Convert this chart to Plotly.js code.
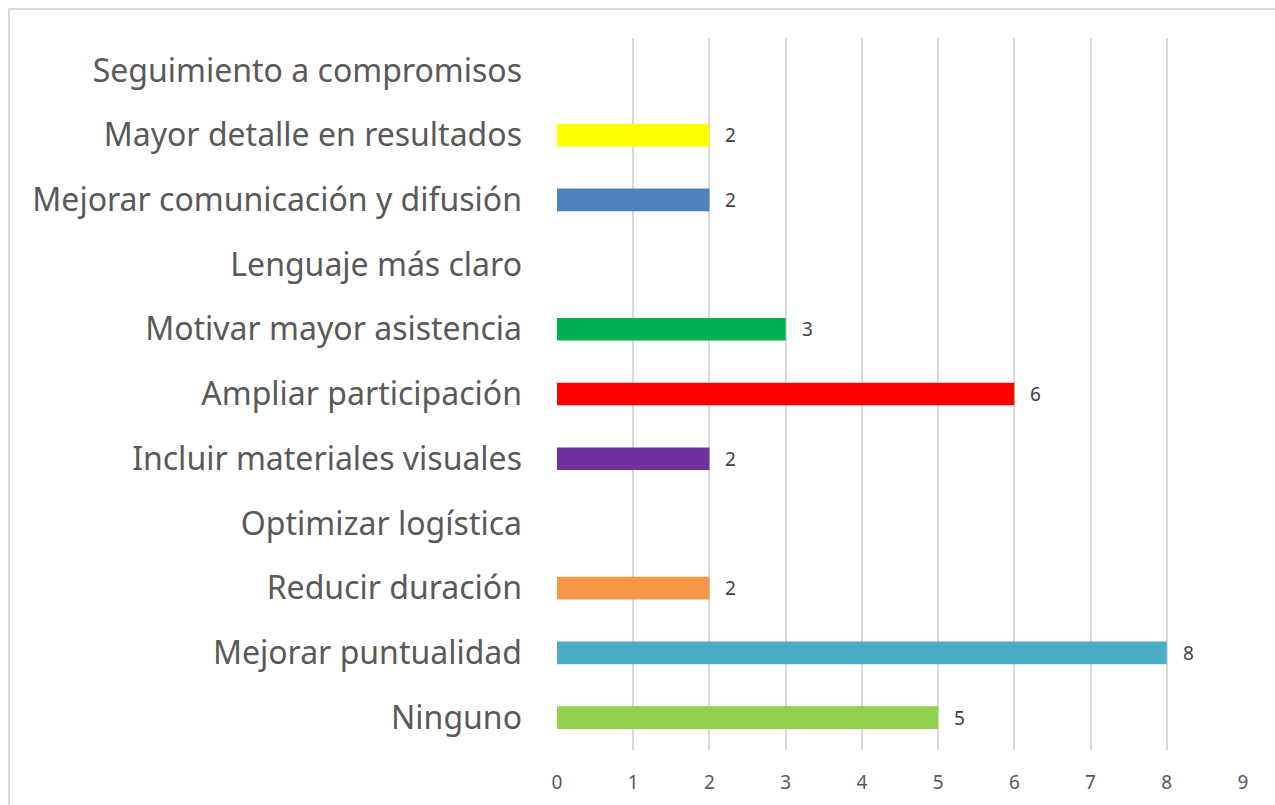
<!DOCTYPE html>
<html>
<head>
<meta charset="utf-8">
<script src="https://cdn.plot.ly/plotly-3.0.1.min.js"></script>
<style>
html,body{margin:0;padding:0;background:#fff;}
#wrap{position:relative;width:1275px;height:805px;overflow:hidden;}
#chart{width:1275px;height:805px;}
#frame{position:absolute;left:8px;top:8px;width:1290px;height:820px;border:2px solid #d9d9d9;box-sizing:border-box;pointer-events:none;}
</style>
</head>
<body>
<div id="wrap"><div id="chart"></div><div id="frame"></div></div>
<script>
const categories = [
  "Ninguno",
  "Mejorar puntualidad",
  "Reducir duración",
  "Optimizar logística",
  "Incluir materiales visuales",
  "Ampliar participación",
  "Motivar mayor asistencia",
  "Lenguaje más claro",
  "Mejorar comunicación y difusión",
  "Mayor detalle en resultados",
  "Seguimiento a compromisos"
];
const values = [5, 8, 2, null, 2, 6, 3, null, 2, 2, null];
const colors = ["#92D050", "#4BACC6", "#F79646", "#FFC000", "#7030A0", "#FF0000", "#00B050", "#C0504D", "#4F81BD", "#FFFF00", "#8064A2"];
const xTicks = [0, 1, 2, 3, 4, 5, 6, 7, 8, 9];

const font = "'Noto Sans', 'Open Sans', sans-serif";

const annotations = [];
categories.forEach((c, i) => {
  if (values[i] !== null) {
    annotations.push({
      x: values[i], y: c, xref: 'x', yref: 'y',
      text: String(values[i]), showarrow: false,
      xanchor: 'left', xshift: 14,
      font: {family: font, size: 19, color: '#404040'}
    });
  }
});

Plotly.newPlot('chart', [{
  type: 'bar',
  orientation: 'h',
  y: categories,
  x: values,
  marker: {color: colors},
  width: 0.35,
  hoverinfo: 'x+y'
}], {
  width: 1275, height: 805,
  margin: {l: 557, r: 32, t: 38, b: 55, pad: 0},
  paper_bgcolor: '#fff', plot_bgcolor: '#fff',
  showlegend: false,
  xaxis: {
    range: [0, 9], tickvals: xTicks, ticktext: xTicks.map(String),
    showgrid: true, gridcolor: '#d9d9d9', gridwidth: 2,
    zeroline: false, showline: false, ticks: '',
    ticklabelstandoff: 19,
    tickfont: {family: font, size: 19, color: '#595959'},
    fixedrange: true
  },
  yaxis: {
    type: 'category', categoryorder: 'array', categoryarray: categories,
    range: [-0.5, 10.5],
    showgrid: false, zeroline: false, showline: false, ticks: '',
    ticklabelstandoff: 34,
    tickfont: {family: font, size: 32, color: '#595959'},
    fixedrange: true
  },
  annotations: annotations
}, {displayModeBar: false, staticPlot: true});
</script>
</body>
</html>
